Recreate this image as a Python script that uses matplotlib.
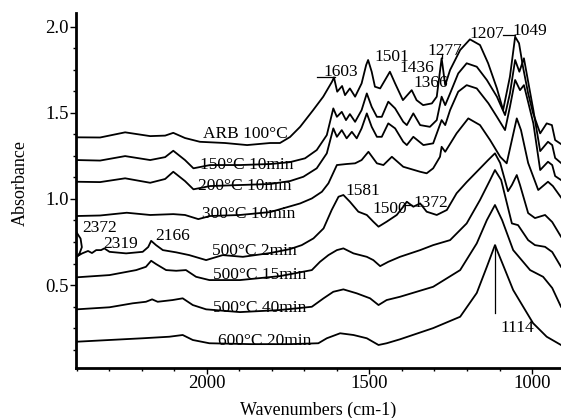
import matplotlib
matplotlib.use("Agg")
import matplotlib.pyplot as plt
from matplotlib.ticker import MultipleLocator

plt.rcParams['font.family'] = ['Liberation Serif', 'DejaVu Serif']

# ---- spectra (wavenumber, absorbance) ----
wn_arb = [2400, 2328, 2251, 2174, 2128, 2103, 2067, 2021, 1944, 1876, 1805, 1775, 1744, 1713,
          1673, 1642, 1615, 1609, 1599, 1584, 1575, 1560, 1544, 1524, 1510, 1504, 1493, 1483,
          1467, 1437, 1421, 1397, 1370, 1355, 1335, 1308, 1293, 1278, 1267, 1252, 1221, 1191,
          1160, 1135, 1108, 1089, 1068, 1052, 1040, 1028, 1012, 997, 975, 955, 939, 929, 911]
ab_arb = [1.358, 1.357, 1.387, 1.365, 1.368, 1.384, 1.354, 1.332, 1.325, 1.313, 1.325, 1.325, 1.360, 1.419,
          1.516, 1.594, 1.681, 1.706, 1.623, 1.656, 1.603, 1.642, 1.594, 1.671, 1.778, 1.807, 1.739, 1.652,
          1.642, 1.739, 1.671, 1.574, 1.632, 1.574, 1.545, 1.555, 1.594, 1.817, 1.661, 1.749, 1.865, 1.927,
          1.894, 1.788, 1.642, 1.516, 1.710, 1.942, 1.904, 1.768, 1.613, 1.499, 1.381, 1.439, 1.429, 1.342, 1.319]

wn_150 = [2400, 2328, 2251, 2174, 2128, 2103, 2067, 2041, 1990, 1898, 1805, 1744, 1698, 1662,
          1631, 1611, 1600, 1585, 1572, 1560, 1544, 1524, 1508, 1493, 1477, 1462, 1442, 1421,
          1396, 1385, 1365, 1344, 1314, 1293, 1278, 1267, 1252, 1227, 1201, 1170, 1139, 1108,
          1083, 1068, 1052, 1039, 1025, 1011, 996, 975, 951, 938, 929, 911]
ab_150 = [1.226, 1.223, 1.249, 1.226, 1.243, 1.280, 1.226, 1.178, 1.197, 1.197, 1.203, 1.214, 1.236, 1.284,
          1.371, 1.526, 1.477, 1.506, 1.458, 1.493, 1.448, 1.516, 1.613, 1.535, 1.477, 1.477, 1.565, 1.526,
          1.448, 1.429, 1.497, 1.429, 1.419, 1.458, 1.594, 1.545, 1.613, 1.729, 1.788, 1.768, 1.691, 1.594,
          1.487, 1.613, 1.807, 1.739, 1.817, 1.671, 1.516, 1.278, 1.332, 1.313, 1.238, 1.209]

wn_200 = [2400, 2328, 2251, 2174, 2128, 2103, 2067, 2041, 1990, 1898, 1805, 1744, 1703, 1662,
          1631, 1611, 1600, 1585, 1570, 1554, 1539, 1524, 1508, 1493, 1477, 1462, 1442, 1421,
          1396, 1385, 1365, 1334, 1304, 1278, 1267, 1252, 1227, 1201, 1170, 1134, 1108, 1083,
          1068, 1052, 1037, 1025, 1011, 996, 975, 951, 938, 929, 911]
ab_200 = [1.100, 1.098, 1.120, 1.094, 1.116, 1.158, 1.104, 1.056, 1.075, 1.081, 1.087, 1.104, 1.129, 1.178,
          1.265, 1.410, 1.361, 1.400, 1.352, 1.390, 1.352, 1.410, 1.497, 1.419, 1.361, 1.361, 1.439, 1.410,
          1.332, 1.313, 1.361, 1.313, 1.323, 1.458, 1.429, 1.516, 1.623, 1.661, 1.642, 1.555, 1.477, 1.400,
          1.535, 1.691, 1.632, 1.661, 1.555, 1.439, 1.168, 1.216, 1.197, 1.133, 1.110]

wn_300 = [2400, 2328, 2246, 2174, 2103, 2067, 2026, 1990, 1898, 1805, 1713, 1677, 1646, 1626,
          1600, 1570, 1544, 1524, 1503, 1477, 1457, 1431, 1396, 1344, 1324, 1304, 1283, 1278,
          1267, 1232, 1196, 1160, 1129, 1098, 1078, 1062, 1047, 1034, 1012, 981, 951, 936, 911]
ab_300 = [0.901, 0.904, 0.920, 0.907, 0.912, 0.907, 0.883, 0.901, 0.907, 0.924, 0.974, 1.003, 1.042, 1.091,
          1.197, 1.203, 1.207, 1.226, 1.274, 1.207, 1.197, 1.245, 1.187, 1.158, 1.149, 1.178, 1.245, 1.303,
          1.274, 1.381, 1.468, 1.429, 1.342, 1.245, 1.207, 1.342, 1.468, 1.400, 1.209, 1.052, 1.100, 1.075, 1.009]

wn_500a = [2401, 2388, 2384, 2391, 2398, 2383, 2365, 2353, 2340, 2325, 2315, 2299, 2248, 2197,
           2180, 2171, 2156, 2135, 2094, 2054, 2002, 1951, 1889, 1805, 1744, 1708, 1672, 1641,
           1616, 1595, 1580, 1560, 1534, 1508, 1488, 1472, 1447, 1416, 1396, 1385, 1365, 1344,
           1324, 1293, 1262, 1232, 1201, 1170, 1135, 1114, 1098, 1074, 1062, 1047, 1037, 1012,
           991, 960, 938, 911]
ab_500a = [0.808, 0.770, 0.720, 0.685, 0.668, 0.684, 0.698, 0.686, 0.703, 0.703, 0.713, 0.693, 0.684, 0.693,
           0.721, 0.757, 0.732, 0.703, 0.690, 0.674, 0.645, 0.674, 0.664, 0.686, 0.709, 0.732, 0.771, 0.829,
           0.936, 1.013, 1.023, 0.984, 0.926, 0.907, 0.868, 0.839, 0.868, 0.907, 0.955, 0.984, 0.955, 0.974,
           0.926, 0.907, 0.936, 1.033, 1.098, 1.158, 1.226, 1.265, 1.209, 1.045, 1.081, 1.139, 1.081, 0.918,
           0.889, 0.907, 0.866, 0.781]

wn_500b = [2400, 2299, 2217, 2187, 2171, 2156, 2125, 2094, 2064, 2033, 1992, 1898, 1775, 1677,
           1652, 1626, 1600, 1580, 1549, 1508, 1488, 1467, 1442, 1406, 1344, 1304, 1252, 1201,
           1160, 1129, 1114, 1095, 1062, 1043, 1012, 991, 960, 938, 911]
ab_500b = [0.545, 0.558, 0.587, 0.606, 0.641, 0.622, 0.587, 0.583, 0.587, 0.548, 0.529, 0.529, 0.552, 0.587,
           0.635, 0.674, 0.703, 0.713, 0.684, 0.664, 0.645, 0.610, 0.635, 0.664, 0.703, 0.732, 0.761, 0.858,
           0.994, 1.110, 1.168, 1.110, 0.858, 0.848, 0.761, 0.732, 0.722, 0.692, 0.606]

wn_500c = [2400, 2299, 2228, 2187, 2168, 2151, 2105, 2074, 2043, 2002, 1898, 1775, 1677, 1641,
           1611, 1580, 1539, 1498, 1472, 1447, 1406, 1304, 1221, 1170, 1139, 1114, 1092, 1058,
           1006, 966, 938, 911]
ab_500c = [0.359, 0.371, 0.394, 0.403, 0.417, 0.403, 0.413, 0.423, 0.384, 0.359, 0.343, 0.355, 0.374, 0.423,
           0.461, 0.475, 0.452, 0.423, 0.384, 0.413, 0.432, 0.490, 0.587, 0.742, 0.877, 0.965, 0.877, 0.703,
           0.587, 0.548, 0.483, 0.374]

wn_600 = [2400, 2299, 2197, 2115, 2074, 2043, 1992, 1867, 1744, 1657, 1631, 1590, 1549, 1508,
          1472, 1447, 1406, 1304, 1221, 1170, 1139, 1114, 1089, 1058, 997, 955, 911]
ab_600 = [0.171, 0.181, 0.191, 0.200, 0.210, 0.181, 0.162, 0.157, 0.157, 0.162, 0.191, 0.220, 0.210, 0.191,
          0.152, 0.162, 0.185, 0.250, 0.316, 0.454, 0.606, 0.732, 0.616, 0.471, 0.279, 0.200, 0.152]

# curve labels: text, left wavenumber, baseline absorbance
curve_labels = ["ARB 100°C", "150°C 10min", "200°C 10min", "300°C 10min",
                "500°C 2min", "500°C 15min", "500°C 40min", "600°C 20min"]
label_wn = [2012, 2021, 2027, 2014, 1984, 1981, 1981, 1966]
label_ab = [1.352, 1.174, 1.052, 0.889, 0.674, 0.535, 0.343, 0.152]

# peak annotations: text, left wavenumber, baseline absorbance
peak_text = ["1603", "1501", "1436", "1366", "1277", "1207", "1049",
             "1581", "1500", "1372", "2372", "2319", "2166", "1114"]
peak_wn = [1642, 1486, 1408, 1365, 1323, 1191, 1061,
           1575, 1492, 1366, 2383, 2319, 2159, 1098]
peak_ab = [1.715, 1.800, 1.738, 1.650, 1.836, 1.934, 1.952,
           1.023, 0.918, 0.953, 0.808, 0.715, 0.761, 0.227]

series = [(wn_arb, ab_arb), (wn_150, ab_150), (wn_200, ab_200), (wn_300, ab_300),
          (wn_500a, ab_500a), (wn_500b, ab_500b), (wn_500c, ab_500c), (wn_600, ab_600)]

fig = plt.figure(figsize=(5.61, 4.18), dpi=100)
ax = fig.add_axes([0.1355, 0.1203, 0.8645, 0.8486])

for wn, ab in series:
    ax.plot(wn, ab, color='black', lw=1.3)

for txt, x, y in zip(curve_labels, label_wn, label_ab):
    ax.text(x, y, txt, fontsize=12.5, va='baseline', ha='left')

for txt, x, y in zip(peak_text, peak_wn, peak_ab):
    ax.text(x, y, txt, fontsize=12.5, va='baseline', ha='left')

# leader lines for a few of the peak labels
ax.plot([1662, 1607], [1.706, 1.706], color='black', lw=0.9)
ax.plot([1088, 1052], [1.950, 1.950], color='black', lw=0.9)
ax.plot([1114, 1114], [0.732, 0.337], color='black', lw=0.9)
ax.plot([1278, 1278], [1.817, 1.840], color='black', lw=0.9)
ax.plot([1398, 1370], [0.965, 0.965], color='black', lw=0.9)

ax.set_xlim(2402, 911)
ax.set_ylim(0.02, 2.08)
ax.xaxis.set_minor_locator(MultipleLocator(100))
ax.yaxis.set_minor_locator(MultipleLocator(0.125))
ax.set_xticks([2000, 1500, 1000])
ax.set_xticklabels(["2000", "1500", "1000"])
ax.set_yticks([0.5, 1.0, 1.5, 2.0])
ax.set_yticklabels(["0.5", "1.0", "1.5", "2.0"])

for side in ['top', 'right']:
    ax.spines[side].set_visible(False)
for side in ['left', 'bottom']:
    ax.spines[side].set_linewidth(2)

ax.tick_params(axis='both', which='major', direction='out', length=4, width=1, labelsize=13.5, pad=1)
ax.tick_params(axis='both', which='minor', direction='out', length=2.5, width=1)

ax.set_xlabel("Wavenumbers (cm-1)", fontsize=13, labelpad=7)
ax.set_ylabel("Absorbance", fontsize=13)
ax.yaxis.set_label_coords(-0.098, 0.52)

fig.savefig("out.png", dpi=100)
